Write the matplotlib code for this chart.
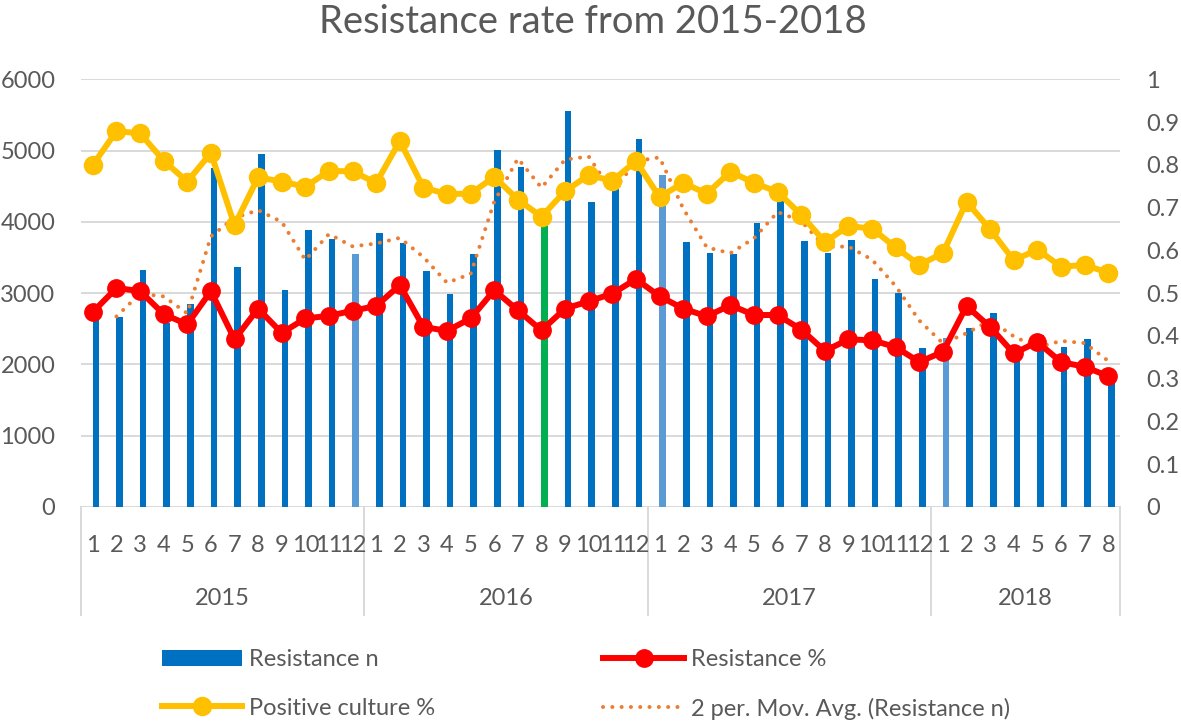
"""
Resistance rate from 2015-2018: monthly resistance counts (bars),
resistance % and positive culture % (right axis), plus 2-period moving average.
"""
import numpy as np
import pandas as pd
import matplotlib
matplotlib.use('Agg')
import matplotlib.pyplot as plt
from matplotlib.patches import Patch
from matplotlib.lines import Line2D
from matplotlib.transforms import blended_transform_factory

# ---- data ----
years = ['2015', '2016', '2017', '2018']
months_per_year = [12, 12, 12, 8]

resistance_n = [
    2680, 2667, 3322, 2588, 2845, 4750, 3369, 4960, 3042, 3893, 3767, 3547,   # 2015
    3847, 3706, 3308, 2985, 3556, 5016, 4764, 4197, 5554, 4282, 4550, 5157,   # 2016
    4656, 3720, 3566, 3556, 3987, 4291, 3734, 3566, 3744, 3196, 3004, 2227,   # 2017
    2365, 2513, 2729, 2060, 2420, 2240, 2360, 1740,                           # 2018
]
resistance_pct = [
    0.456, 0.512, 0.505, 0.451, 0.427, 0.505, 0.392, 0.464, 0.407, 0.441, 0.447, 0.459,
    0.470, 0.519, 0.421, 0.412, 0.441, 0.507, 0.460, 0.413, 0.464, 0.481, 0.499, 0.533,
    0.493, 0.464, 0.446, 0.472, 0.449, 0.449, 0.415, 0.365, 0.392, 0.390, 0.374, 0.339,
    0.363, 0.470, 0.421, 0.359, 0.386, 0.339, 0.328, 0.306,
]
positive_culture_pct = [
    0.800, 0.879, 0.874, 0.810, 0.761, 0.828, 0.659, 0.771, 0.761, 0.749, 0.786, 0.785,
    0.758, 0.856, 0.747, 0.732, 0.733, 0.772, 0.719, 0.679, 0.739, 0.776, 0.763, 0.809,
    0.725, 0.758, 0.733, 0.784, 0.758, 0.737, 0.683, 0.620, 0.657, 0.651, 0.607, 0.566,
    0.594, 0.714, 0.649, 0.577, 0.602, 0.562, 0.566, 0.548,
]
# bars with a different fill (index -> colour)
special_bars = {11: '#5B9BD5', 19: '#00B050', 24: '#5B9BD5', 36: '#5B9BD5'}

left_ticks = [0, 1000, 2000, 3000, 4000, 5000, 6000]
right_ticks = [0, 0.1, 0.2, 0.3, 0.4, 0.5, 0.6, 0.7, 0.8, 0.9, 1]

plt.rcParams['font.family'] = ['Lato', 'DejaVu Sans']
TXT = '#595959'
BLUE = '#0070C0'
RED = '#FF0000'
YELLOW = '#FFC000'
ORANGE = '#ED7D31'
FS = 17
MA_STYLE = (0, (0.01, 2.3))

df = pd.DataFrame({'n': resistance_n, 'res': resistance_pct, 'pos': positive_culture_pct})
df['ma2'] = df['n'].rolling(2).mean()
month_labels = [str(m + 1) for k in months_per_year for m in range(k)]
x = np.arange(len(df))

fig = plt.figure(figsize=(11.81, 7.22), dpi=100)
ax = fig.add_axes([0.0686, 0.2978, 0.8798, 0.5922])
ax2 = ax.twinx()

# bars (slightly offset to the right of the category centre, as in Excel)
colors = [special_bars.get(i, BLUE) for i in x]
ax.bar(x + 0.13, df['n'], width=0.28, color=colors, zorder=2)
ax.plot(x, df['ma2'], color=ORANGE, lw=2.9, ls=MA_STYLE,
        dash_capstyle='round', zorder=3)

ax2.plot(x, df['pos'], color=YELLOW, lw=4.3, marker='o', ms=13, zorder=3)
ax2.plot(x, df['res'], color=RED, lw=4.3, marker='o', ms=12.5, zorder=4)

ax.set_xlim(-0.5, len(df) - 0.5)
ax.set_ylim(0, 6000)
ax2.set_ylim(0, 1)
ax.set_yticks(left_ticks)
ax2.set_yticks(right_ticks)
ax2.set_yticklabels([f'{t:g}' for t in right_ticks])
ax.set_xticks([])
ax.grid(axis='y', color='#D9D9D9', lw=1.4, zorder=0)
ax.set_axisbelow(True)
for a in (ax, ax2):
    for s in a.spines.values():
        s.set_visible(False)
ax.tick_params(axis='y', length=0, labelsize=FS, colors=TXT, pad=18.5)
ax2.tick_params(axis='y', length=0, labelsize=FS, colors=TXT, pad=19)

# two-level category axis
trans = blended_transform_factory(ax.transData, ax.transAxes)
for i, lab in enumerate(month_labels):
    ax.text(i, -0.09, lab, transform=trans, ha='center', va='center',
            fontsize=FS, color=TXT)
edges = np.concatenate([[0], np.cumsum(months_per_year)]) - 0.5
for e in edges:
    ax.plot([e, e], [0, -0.2525], transform=trans, color='#D9D9D9', lw=1.4,
            clip_on=False)
for k, yr in enumerate(years):
    ax.text((edges[k] + edges[k + 1]) / 2, -0.213, yr, transform=trans,
            ha='center', va='center', fontsize=FS, color=TXT)

fig.text(0.502, 0.970, 'Resistance rate from 2015-2018', ha='center',
         va='center', fontsize=27.5, color=TXT)

# legend: two columns, placed separately
h_bar = Patch(facecolor=BLUE)
h_pos = Line2D([], [], color=YELLOW, lw=4.3, marker='o', ms=13)
h_res = Line2D([], [], color=RED, lw=4.3, marker='o', ms=12.5)
h_ma = Line2D([], [], color=ORANGE, lw=2.9, ls=MA_STYLE, dash_capstyle='round')
leg_kw = dict(frameon=False, fontsize=FS, handlelength=3.4, handletextpad=0.3,
              labelspacing=1.15, labelcolor=TXT, loc='upper left', borderaxespad=0)
fig.legend([h_bar, h_pos], ['Resistance n', 'Positive culture %'],
           bbox_to_anchor=(0.129, 0.1135), **leg_kw)
fig.legend([h_res, h_ma], ['Resistance %', '2 per. Mov. Avg. (Resistance n)'],
           bbox_to_anchor=(0.503, 0.1135), **leg_kw)

fig.savefig('out.png', dpi=100)
